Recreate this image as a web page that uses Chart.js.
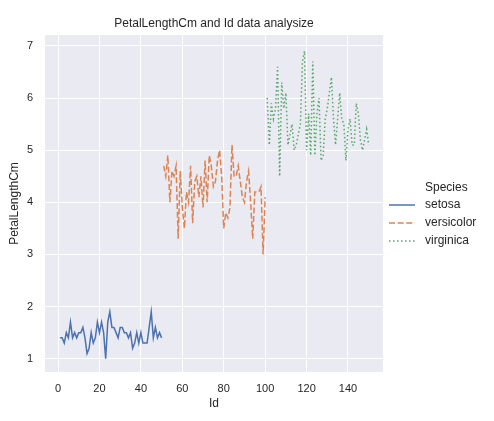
<!DOCTYPE html>
<html>
<head>
<meta charset="utf-8">
<script src="https://cdn.jsdelivr.net/npm/chart.js@4/dist/chart.umd.min.js"></script>
<style>
  html, body { margin: 0; padding: 0; background: #fff; }
  #wrap { width: 494px; height: 421px; }
</style>
</head>
<body>
<div id="wrap"><canvas id="c" width="494" height="421"></canvas></div>
<script>
// Iris PetalLengthCm by Id, one array per species
const setosaLength = [1.4,1.4,1.3,1.5,1.4,1.7,1.4,1.5,1.4,1.5,1.5,1.6,1.4,1.1,1.2,1.5,1.3,1.4,1.7,1.5,
  1.7,1.5,1.0,1.7,1.9,1.6,1.6,1.5,1.4,1.6,1.6,1.5,1.5,1.4,1.5,1.2,1.3,1.5,1.3,1.5,
  1.3,1.3,1.3,1.6,1.9,1.4,1.6,1.4,1.5,1.4];
const versicolorLength = [4.7,4.5,4.9,4.0,4.6,4.5,4.7,3.3,4.6,3.9,3.5,4.2,4.0,4.7,3.6,4.4,4.5,4.1,4.5,3.9,
  4.8,4.0,4.9,4.7,4.3,4.4,4.8,5.0,4.5,3.5,3.8,3.7,3.9,5.1,4.5,4.5,4.7,4.4,4.1,4.0,
  4.4,4.6,4.0,3.3,4.2,4.2,4.2,4.3,3.0,4.1];
const virginicaLength = [6.0,5.1,5.9,5.6,5.8,6.6,4.5,6.3,5.8,6.1,5.1,5.3,5.5,5.0,5.1,5.3,5.5,6.7,6.9,5.0,
  5.7,4.9,6.7,4.9,5.7,6.0,4.8,4.9,5.6,5.8,6.1,6.4,5.6,5.1,5.6,6.1,5.6,5.5,4.8,5.4,
  5.6,5.1,5.1,5.9,5.7,5.2,5.0,5.2,5.4,5.1];
const firstIds = [1, 51, 101];
const species = ['setosa', 'versicolor', 'virginica'];
const xTicks = [0, 20, 40, 60, 80, 100, 120, 140];
const yTicks = [1, 2, 3, 4, 5, 6, 7];

const colors = ['#4C72B0', '#DD8452', '#55A868'];
const dashes = [[], [6, 2.6], [1.5, 2.5]];
const FONT = "'Liberation Sans', Arial, sans-serif";
const TXT = '#262626';

const toPoints = (vals, start) => vals.map((v, i) => ({ x: start + i, y: v }));
const allVals = [setosaLength, versicolorLength, virginicaLength];

const datasets = allVals.map((vals, k) => ({
  label: species[k],
  data: toPoints(vals, firstIds[k]),
  borderColor: colors[k],
  backgroundColor: colors[k],
  borderWidth: 1.5,
  borderDash: dashes[k],
  pointRadius: 0,
  tension: 0,
  fill: false
}));

const bgPlugin = {
  id: 'plotBg',
  beforeDraw(chart) {
    const { ctx, chartArea: a } = chart;
    ctx.save();
    ctx.fillStyle = '#EAEAF2';
    ctx.fillRect(a.left, a.top, a.right - a.left, a.bottom - a.top);
    ctx.restore();
  }
};

const decorPlugin = {
  id: 'decor',
  afterDraw(chart) {
    const { ctx, chartArea: a } = chart;
    ctx.save();
    ctx.fillStyle = TXT;
    ctx.font = '12px ' + FONT;
    ctx.textAlign = 'center';
    ctx.textBaseline = 'middle';
    ctx.fillText('PetalLengthCm and Id data analysize', (a.left + a.right) / 2, 24);

    // legend
    ctx.textAlign = 'left';
    ctx.fillText('Species', 425, 188);
    species.forEach((s, k) => {
      const y = 205 + k * 18;
      ctx.strokeStyle = colors[k];
      ctx.lineWidth = 1.5;
      ctx.setLineDash(dashes[k]);
      ctx.beginPath();
      ctx.moveTo(389, y);
      ctx.lineTo(415, y);
      ctx.stroke();
      ctx.fillText(s, 425, y);
    });
    ctx.restore();
  }
};

new Chart(document.getElementById('c'), {
  type: 'line',
  data: { datasets },
  options: {
    responsive: false,
    animation: false,
    devicePixelRatio: 1,
    layout: { padding: { top: 35, right: 111, left: 0, bottom: 0 } },
    plugins: { legend: { display: false }, tooltip: { enabled: false } },
    scales: {
      x: {
        type: 'linear',
        min: -6.3,
        max: 156.9,
        afterFit: s => { s.height = 49; },
        afterBuildTicks: s => { s.ticks = xTicks.map(v => ({ value: v })); },
        ticks: { color: TXT, font: { size: 11, family: FONT }, padding: 10, includeBounds: false },
        grid: { color: '#FFFFFF', lineWidth: 1, drawTicks: false },
        border: { display: false },
        title: { display: true, text: 'Id', color: TXT, font: { size: 12, family: FONT }, padding: { top: 0, bottom: 10 } }
      },
      y: {
        type: 'linear',
        min: 0.745,
        max: 7.21,
        afterFit: s => { s.width = 45; },
        afterBuildTicks: s => { s.ticks = yTicks.map(v => ({ value: v })); },
        ticks: { color: TXT, font: { size: 11, family: FONT }, padding: 12, includeBounds: false },
        grid: { color: '#FFFFFF', lineWidth: 1, drawTicks: false },
        border: { display: false },
        title: { display: true, text: 'PetalLengthCm', color: TXT, font: { size: 12, family: FONT }, padding: { top: 7, bottom: 0 } }
      }
    }
  },
  plugins: [bgPlugin, decorPlugin]
});
</script>
</body>
</html>
